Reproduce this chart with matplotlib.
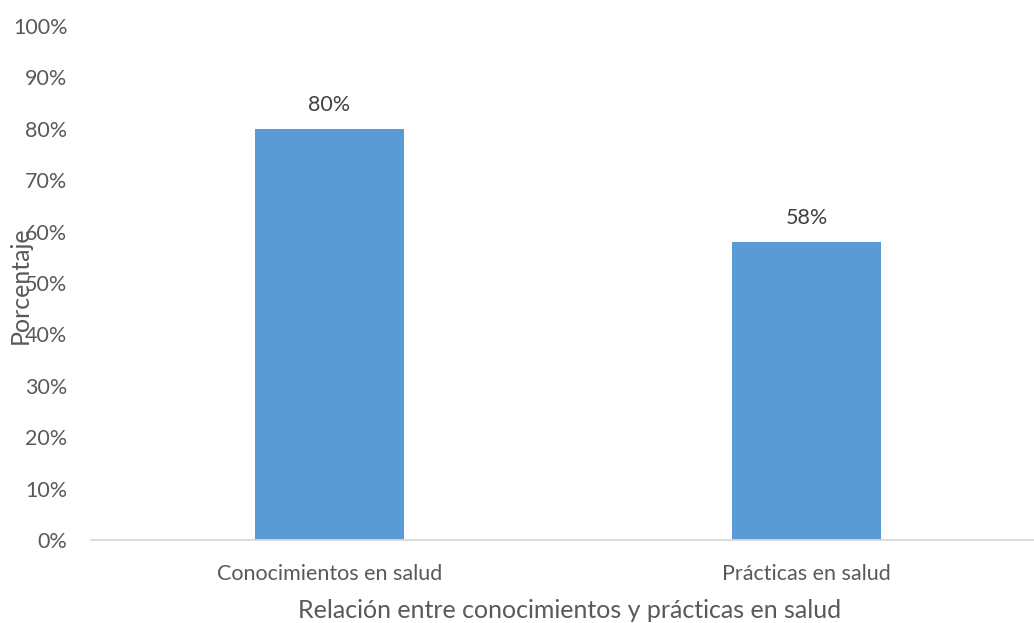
import matplotlib.pyplot as plt
from matplotlib.ticker import PercentFormatter

categories = ["Conocimientos en salud", "Prácticas en salud"]
values = [80, 58]
y_ticks = [0, 10, 20, 30, 40, 50, 60, 70, 80, 90, 100]

plt.rcParams["font.family"] = ["Lato", "DejaVu Sans"]
text_color = "#595959"

fig = plt.figure(figsize=(10.34, 6.23), dpi=100)
ax = fig.add_axes([91 / 1034, (623 - 540) / 623, 954 / 1034, 514 / 623])

x = range(len(categories))
bars = ax.bar(x, values, width=0.314, color="#5B9BD5", zorder=2)
for bar, v in zip(bars, values):
    ax.annotate(f"{v}%", (bar.get_x() + bar.get_width() / 2, v),
                xytext=(0, 10), textcoords="offset points",
                ha="center", va="bottom", fontsize=15.5, color="#404040")

ax.set_xlim(-0.5, 1.5)
ax.set_ylim(0, 100)
ax.set_yticks(y_ticks)
ax.yaxis.set_major_formatter(PercentFormatter(decimals=0))
ax.set_xticks(list(x))
ax.set_xticklabels(categories)
ax.tick_params(axis="y", length=0, pad=17, labelsize=15.5, labelcolor=text_color)
ax.tick_params(axis="x", length=0, pad=17, labelsize=15.5, labelcolor=text_color)

for side in ["top", "right", "left"]:
    ax.spines[side].set_visible(False)
ax.spines["bottom"].set_color("#D9D9D9")
ax.spines["bottom"].set_linewidth(1.3)

fig.text(20 / 1034, 1 - 285 / 623, "Porcentaje", rotation=90, ha="center",
         va="center", fontsize=18, color=text_color)
fig.text(570 / 1034, 1 - 610 / 623, "Relación entre conocimientos y prácticas en salud",
         ha="center", va="center", fontsize=18, color=text_color)

fig.savefig("out.png", dpi=100)
